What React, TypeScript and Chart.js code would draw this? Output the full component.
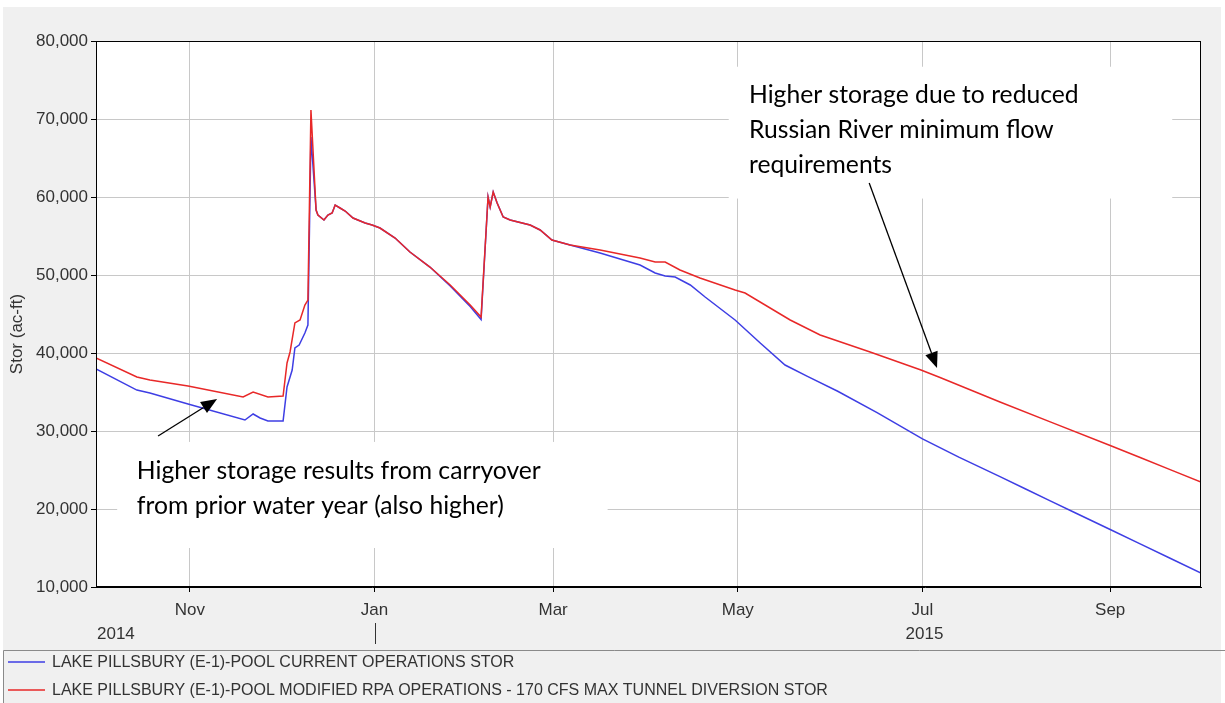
import React, { useEffect, useRef } from 'react';
import { Chart, registerables } from 'chart.js';

Chart.register(...registerables);

// ---- axis ticks (x = days since Oct 1, 2014) ----
const monthTickDays = [31, 92, 151, 212, 273, 335];
const monthTickLabels = ['Nov', 'Jan', 'Mar', 'May', 'Jul', 'Sep'];
const yearLabels = ['2014', '2015'];
const yearLabelDays = [0, 273];
const yearBoundaryDay = 92;
const xMinDay = 0;
const xMaxDay = 365;
const yMin = 10000;
const yMax = 80000;
const yStep = 10000;

// ---- series ----
const seriesLabels = [
  'LAKE PILLSBURY (E-1)-POOL CURRENT OPERATIONS STOR',
  'LAKE PILLSBURY (E-1)-POOL MODIFIED RPA OPERATIONS - 170 CFS MAX TUNNEL DIVERSION STOR',
];

const currentDays = [
  0, 13.5, 17.8, 30.4, 49.2, 51.9, 54.2, 56.8, 61.8, 63.1, 64.8, 65.7, 67.1, 69, 70, 71,
  72.7, 73.3, 75.3, 76.6, 78, 79, 80.6, 82.3, 84.9, 88.9, 91.2, 93.8, 98.8, 103.7, 110.3,
  117, 123.6, 127.2, 129.5, 130.2, 131.2, 132.5, 134.5, 136.8, 143.4, 146.7, 150.6, 156.6,
  166.5, 179.7, 184.7, 188, 191.3, 196.3, 201.2, 211.1, 219.4, 227.6, 235, 245, 258, 273,
  285, 298.6, 306.9, 315.2, 323.4, 335, 344.9, 354.8, 365,
];
const currentStor = [
  37950, 35250, 34870, 33460, 31410, 32180, 31670, 31280, 31280, 35640, 37820, 40640, 41020, 42560, 43590, 67690,
  58330, 57690, 57050, 57690, 57950, 58970, 58590, 58200, 57310, 56660, 56410, 56020, 54740, 52950, 51020,
  48600, 45950, 44300, 60000, 58720, 60640, 59230, 57430, 57050, 56410, 55770, 54490, 53840,
  52820, 51280, 50260, 49870, 49740, 48720, 47180, 44230, 41280, 38460, 37000, 35100, 32350, 29000,
  26650, 24150, 22600, 21050, 19520, 17370, 15530, 13690, 11790,
];

const modifiedDays = [
  0, 13.5, 17.8, 30.4, 48.6, 51.9, 56.8, 61.8, 63.1, 64.1, 65.7, 67.4, 69, 70, 71,
  72.7, 73.3, 75.3, 76.6, 78, 79, 80.6, 82.3, 84.9, 88.9, 91.2, 93.8, 98.8, 103.7, 110.3,
  117, 123.6, 127.2, 129.5, 130.2, 131.2, 132.5, 134.5, 136.8, 143.4, 146.7, 150.6, 156.6,
  166.5, 179.7, 184.7, 188, 192.9, 199.5, 211.1, 214.4, 229.3, 239.2, 255.7, 272.5, 278.8,
  298.6, 315.2, 335, 344.9, 354.8, 365,
];
const modifiedStor = [
  39360, 36920, 36540, 35770, 34360, 35000, 34360, 34490, 38720, 40130, 43850, 44230, 46150, 46790, 71150,
  58330, 57690, 57050, 57690, 57950, 58970, 58590, 58200, 57310, 56660, 56410, 56020, 54740, 52950, 51020,
  48720, 46150, 44600, 60000, 58720, 60640, 59230, 57430, 57050, 56410, 55770, 54490, 53840,
  53200, 52180, 51670, 51670, 50640, 49610, 48070, 47690, 44230, 42310, 40130, 37820, 36850,
  33720, 31170, 28150, 26600, 25050, 23460,
];

// ---- annotations (placed in data coordinates) ----
const noteCarryoverLines = ['Higher storage results from carryover', 'from prior water year (also higher)'];
const noteRussianLines = ['Higher storage due to reduced', 'Russian River minimum flow', 'requirements'];

const notes = [
  {
    lines: noteCarryoverLines,
    box: { dayFrom: 7, dayTo: 169, valTop: 28600, valBottom: 15000 },
    textDay: 13.5,
    lineVals: [24870, 20380],
    arrow: { fromDay: 20.5, fromVal: 29360, toDay: 40, toVal: 34100 },
  },
  {
    lines: noteRussianLines,
    box: { dayFrom: 209, dayTo: 355.5, valTop: 76700, valBottom: 59800 },
    textDay: 215.7,
    lineVals: [73070, 68590, 64100],
    arrow: { fromDay: 255.4, fromVal: 61790, toDay: 277.8, toVal: 38080 },
  },
];

const BLUE = 'rgb(62, 62, 228)';
const RED = 'rgb(232, 40, 40)';
const TEXT = '#333333';
const AXIS_FONT = '"Liberation Sans", Arial, sans-serif';
const NOTE_FONT = 'Lato, "Open Sans", sans-serif';

function drawArrow(ctx: CanvasRenderingContext2D, x1: number, y1: number, x2: number, y2: number) {
  const ang = Math.atan2(y2 - y1, x2 - x1);
  const headLen = 16;
  const headHalf = 6.5;
  const bx = x2 - headLen * Math.cos(ang);
  const by = y2 - headLen * Math.sin(ang);
  ctx.save();
  ctx.strokeStyle = '#000';
  ctx.fillStyle = '#000';
  ctx.lineWidth = 1.3;
  ctx.beginPath();
  ctx.moveTo(x1, y1);
  ctx.lineTo(bx, by);
  ctx.stroke();
  ctx.beginPath();
  ctx.moveTo(x2, y2);
  ctx.lineTo(bx + headHalf * Math.sin(ang), by - headHalf * Math.cos(ang));
  ctx.lineTo(bx - headHalf * Math.sin(ang), by + headHalf * Math.cos(ang));
  ctx.closePath();
  ctx.fill();
  ctx.restore();
}

const decorPlugin = {
  id: 'decor',
  beforeDraw(chart: any) {
    const { ctx, width, height, chartArea } = chart;
    ctx.save();
    ctx.fillStyle = '#ffffff';
    ctx.fillRect(0, 0, width, height);
    ctx.fillStyle = '#f0f0f0';
    ctx.fillRect(3, 7, 1218, height - 7);
    ctx.fillStyle = '#ffffff';
    ctx.fillRect(chartArea.left, chartArea.top, chartArea.right - chartArea.left, chartArea.bottom - chartArea.top);
    ctx.restore();
  },
  beforeDatasetsDraw(chart: any) {
    const { ctx } = chart;
    const xs = chart.scales.x;
    const ys = chart.scales.y;
    ctx.save();
    ctx.font = `100px ${NOTE_FONT}`;
    const w = ctx.measureText(noteRussianLines[0]).width;
    const w2 = ctx.measureText(noteCarryoverLines[0]).width;
    const size = ((100 * 329) / w + (100 * 405) / w2) / 2;
    notes.forEach((n) => {
      const x0 = xs.getPixelForValue(n.box.dayFrom);
      const x1 = xs.getPixelForValue(n.box.dayTo);
      const y0 = ys.getPixelForValue(n.box.valTop);
      const y1 = ys.getPixelForValue(n.box.valBottom);
      ctx.fillStyle = '#ffffff';
      ctx.fillRect(x0, y0, x1 - x0, y1 - y0);
      ctx.fillStyle = '#000';
      ctx.font = `${size.toFixed(2)}px ${NOTE_FONT}`;
      ctx.textAlign = 'left';
      ctx.textBaseline = 'middle';
      n.lines.forEach((line, i) => {
        ctx.fillText(line, xs.getPixelForValue(n.textDay), ys.getPixelForValue(n.lineVals[i]));
      });
    });
    ctx.restore();
  },
  afterDatasetsDraw(chart: any) {
    const { ctx, chartArea } = chart;
    const xs = chart.scales.x;
    const ys = chart.scales.y;
    ctx.save();
    ctx.strokeStyle = '#000';
    ctx.lineWidth = 1;
    ctx.strokeRect(chartArea.left + 0.5, chartArea.top + 0.5, chartArea.right - chartArea.left - 1, chartArea.bottom - chartArea.top - 1);
    ctx.restore();
    notes.forEach((n) => {
      drawArrow(
        ctx,
        xs.getPixelForValue(n.arrow.fromDay),
        ys.getPixelForValue(n.arrow.fromVal),
        xs.getPixelForValue(n.arrow.toDay),
        ys.getPixelForValue(n.arrow.toVal)
      );
    });
  },
  afterDraw(chart: any) {
    const { ctx, width } = chart;
    const xs = chart.scales.x;
    ctx.save();
    ctx.fillStyle = TEXT;
    ctx.font = `17px ${AXIS_FONT}`;
    ctx.textBaseline = 'middle';
    const yearY = 634;
    ctx.textAlign = 'left';
    ctx.fillText(yearLabels[0], xs.getPixelForValue(yearLabelDays[0]) + 1, yearY);
    ctx.textAlign = 'center';
    ctx.fillText(yearLabels[1], xs.getPixelForValue(yearLabelDays[1]) + 2, yearY);
    const bx = Math.round(xs.getPixelForValue(yearBoundaryDay)) + 0.5;
    ctx.strokeStyle = '#333';
    ctx.lineWidth = 1;
    ctx.beginPath();
    ctx.moveTo(bx, 623);
    ctx.lineTo(bx, 644);
    ctx.stroke();
    ctx.save();
    ctx.translate(17, 334);
    ctx.rotate(-Math.PI / 2);
    ctx.textAlign = 'center';
    ctx.textBaseline = 'middle';
    ctx.font = `17px ${AXIS_FONT}`;
    ctx.fillStyle = TEXT;
    ctx.fillText('Stor (ac-ft)', 0, 0);
    ctx.restore();
    ctx.strokeStyle = '#8a8a8a';
    ctx.lineWidth = 1;
    ctx.beginPath();
    ctx.moveTo(width, 650.5);
    ctx.lineTo(3.5, 650.5);
    ctx.lineTo(3.5, 703);
    ctx.stroke();
    const legendOrder = [1, 0];
    const legendY = [662, 690];
    legendOrder.forEach((di, i) => {
      const ds = chart.data.datasets[di];
      ctx.strokeStyle = ds.borderColor;
      ctx.lineWidth = 1.3;
      ctx.beginPath();
      ctx.moveTo(8, legendY[i]);
      ctx.lineTo(45, legendY[i]);
      ctx.stroke();
      ctx.fillStyle = TEXT;
      ctx.font = `16px ${AXIS_FONT}`;
      ctx.textAlign = 'left';
      ctx.textBaseline = 'middle';
      ctx.fillText(ds.label, 52, legendY[i] + 1);
    });
    ctx.restore();
  },
};

export default function App() {
  const ref = useRef<HTMLCanvasElement | null>(null);
  useEffect(() => {
    if (!ref.current) return;
    const chart = new Chart(ref.current, {
      type: 'line',
      data: {
        datasets: [
          {
            label: seriesLabels[1],
            data: modifiedDays.map((d, i) => ({ x: d, y: modifiedStor[i] })),
            borderColor: RED,
            borderWidth: 1.5,
            pointRadius: 0,
            tension: 0,
            fill: false,
          },
          {
            label: seriesLabels[0],
            data: currentDays.map((d, i) => ({ x: d, y: currentStor[i] })),
            borderColor: BLUE,
            borderWidth: 1.5,
            pointRadius: 0,
            tension: 0,
            fill: false,
          },
        ],
      },
      options: {
        animation: false,
        responsive: false,
        devicePixelRatio: 1,
        parsing: false as any,
        layout: { padding: { left: 0, top: 41, right: 24, bottom: 56 } },
        plugins: { legend: { display: false }, tooltip: { enabled: false }, title: { display: false } },
        scales: {
          x: {
            type: 'linear',
            min: xMinDay,
            max: xMaxDay,
            afterBuildTicks: (scale: any) => {
              scale.ticks = monthTickDays.map((v) => ({ value: v }));
            },
            afterFit: (scale: any) => {
              scale.height = 60;
            },
            ticks: {
              autoSkip: false,
              maxRotation: 0,
              padding: 8,
              color: TEXT,
              font: { family: AXIS_FONT, size: 17 },
              callback: (_v: any, i: number) => monthTickLabels[i],
            },
            grid: { color: '#c8c8c8', tickColor: '#000', tickLength: 5, lineWidth: 1 },
            border: { color: '#000', width: 1 },
          },
          y: {
            type: 'linear',
            min: yMin,
            max: yMax,
            afterFit: (scale: any) => {
              scale.width = 96;
            },
            ticks: {
              stepSize: yStep,
              padding: 3,
              color: TEXT,
              font: { family: AXIS_FONT, size: 17 },
              callback: (v: any) => Number(v).toLocaleString('en-US'),
            },
            grid: { color: '#c8c8c8', tickColor: '#000', tickLength: 5, lineWidth: 1 },
            border: { color: '#000', width: 1 },
          },
        },
      },
      plugins: [decorPlugin],
    });
    return () => chart.destroy();
  }, []);
  return (
    <div style={{ position: 'absolute', left: 0, top: 0, width: 1225, height: 703 }}>
      <canvas ref={ref} width={1225} height={703} style={{ display: 'block' }} />
    </div>
  );
}
